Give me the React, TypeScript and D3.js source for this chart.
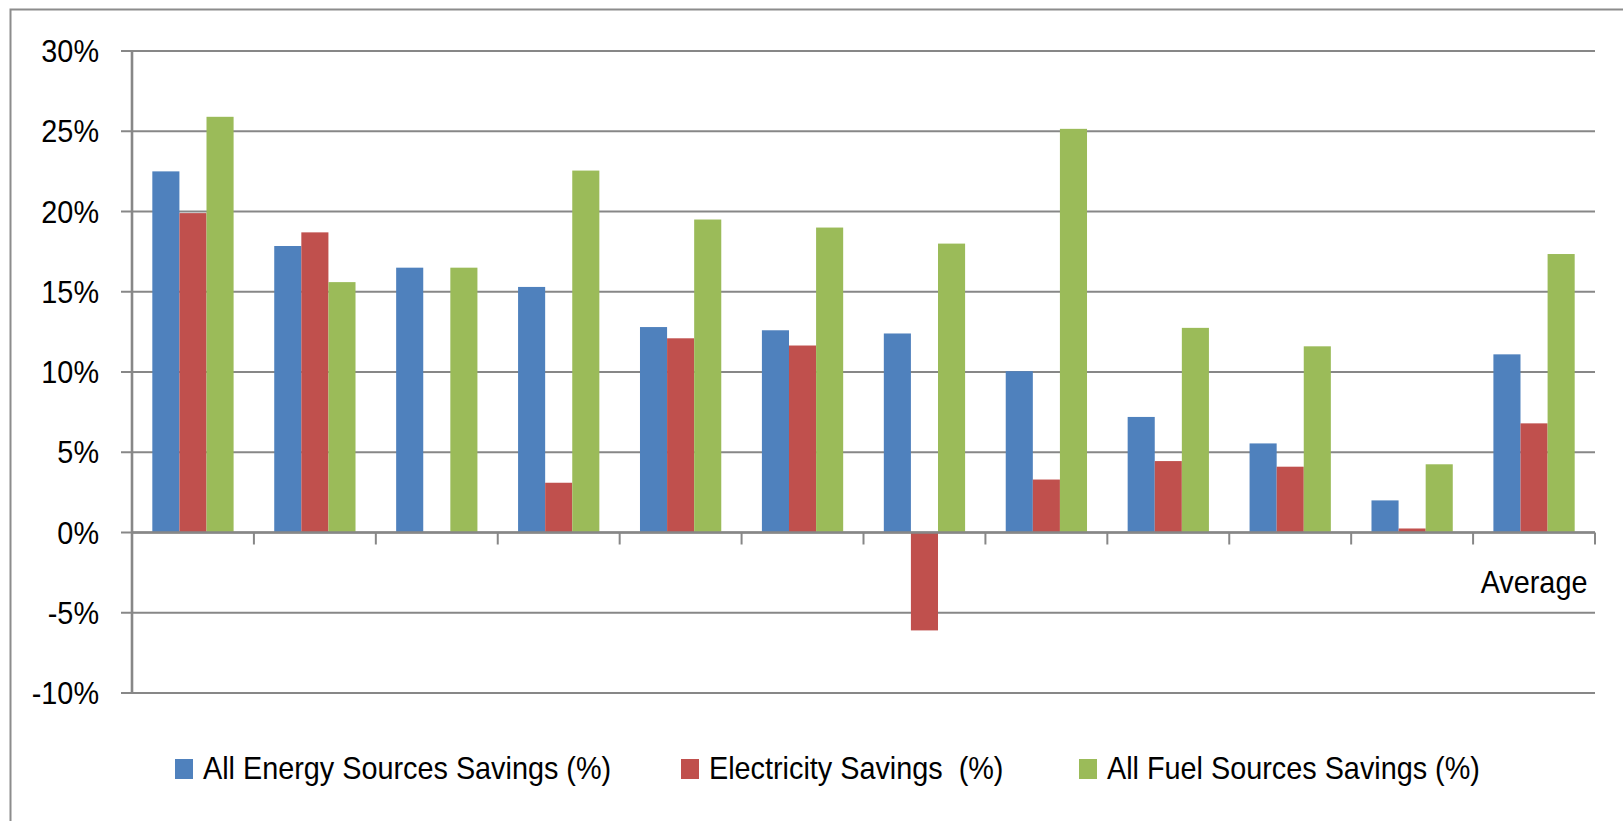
import React from 'react';
import * as d3 from 'd3';

// --- data ---
const categories = ['', '', '', '', '', '', '', '', '', '', '', 'Average'];
const seriesNames = ['All Energy Sources Savings (%)', 'Electricity Savings  (%)', 'All Fuel Sources Savings (%)'];
const allEnergy = [22.5, 17.85, 16.5, 15.3, 12.8, 12.6, 12.4, 10.05, 7.2, 5.55, 2.0, 11.1];
const electricity = [19.9, 18.7, 0, 3.1, 12.1, 11.65, -6.1, 3.3, 4.45, 4.1, 0.25, 6.8];
const allFuel = [25.9, 15.6, 16.5, 22.55, 19.5, 19.0, 18.0, 25.15, 12.75, 11.6, 4.25, 17.35];
const yTicks = [-10, -5, 0, 5, 10, 15, 20, 25, 30];

const seriesValues = [allEnergy, electricity, allFuel];
const colors = ['#4F81BD', '#C0504D', '#9BBB59'];

const W = 1623;
const H = 821;
const FONT = "'Liberation Sans', Arial, sans-serif";
const SX = 0.9; // squeeze to look like Calibri

const App = () => {
  const plot = { left: 132, right: 1595, top: 51, bottom: 693 };

  const x = d3.scaleBand<number>().domain(d3.range(categories.length)).range([plot.left, plot.right]);
  const xSub = d3.scaleBand<number>().domain([0, 1, 2]).range([0, x.bandwidth()]).paddingOuter(0.75);
  const y = d3.scaleLinear().domain([-10, 30]).range([plot.bottom, plot.top]);
  const y0 = y(0);
  const grid = '#878787';

  // legend swatch / text starts
  const legendItems = [
    { sq: 175, tx: 203 },
    { sq: 681, tx: 709 },
    { sq: 1079, tx: 1107 },
  ];

  return (
    <svg width={W} height={H} style={{ position: 'absolute', left: 0, top: 0, background: '#fff' }}>
      <rect x={0} y={0} width={W} height={H} fill="#fff" />
      {/* chart frame */}
      <rect x={10.5} y={9.5} width={W + 50} height={H + 50} fill="none" stroke="#8c8c8c" strokeWidth={2} />

      {/* gridlines + y labels */}
      {yTicks.map((t) => (
        <g key={t}>
          <line x1={121} x2={plot.right} y1={y(t)} y2={y(t)} stroke={grid} strokeWidth={2.2} />
          <text
            transform={`translate(99,${y(t) + 11}) scale(${SX},1)`}
            textAnchor="end"
            fontFamily={FONT}
            fontSize={32}
            fill="#000"
          >
            {t}%
          </text>
        </g>
      ))}

      {/* bars */}
      {seriesValues.map((vals, s) => (
        <g key={s}>
          {vals.map((v, i) => (
            <rect
              key={i}
              x={(x(i) ?? 0) + (xSub(s) ?? 0)}
              y={Math.min(y(v), y0)}
              width={xSub.bandwidth()}
              height={Math.abs(y(v) - y0)}
              fill={colors[s]}
            />
          ))}
        </g>
      ))}

      {/* y axis */}
      <line x1={plot.left} x2={plot.left} y1={plot.top} y2={plot.bottom + 1} stroke={grid} strokeWidth={2.6} />
      {/* x axis at zero */}
      <line x1={plot.left} x2={plot.right} y1={y0} y2={y0} stroke={grid} strokeWidth={2.6} />
      {categories.map((_, i) => {
        const xe = (x(i) ?? 0) + x.bandwidth();
        return <line key={i} x1={xe} x2={xe} y1={y0} y2={y0 + 12} stroke={grid} strokeWidth={2} />;
      })}

      {/* category labels */}
      {categories.map((c, i) =>
        c ? (
          <text
            key={i}
            transform={`translate(${(x(i) ?? 0) + x.bandwidth() / 2},${y0 + 60}) scale(${SX},1)`}
            textAnchor="middle"
            fontFamily={FONT}
            fontSize={32}
            fill="#000"
          >
            {c}
          </text>
        ) : null
      )}

      {/* legend */}
      {seriesNames.map((name, s) => (
        <g key={name}>
          <rect x={legendItems[s].sq} y={759} width={18} height={20} fill={colors[s]} />
          <text
            transform={`translate(${legendItems[s].tx},779) scale(${SX},1)`}
            fontFamily={FONT}
            fontSize={32}
            fill="#000"
            style={{ whiteSpace: 'pre' }}
          >
            {name}
          </text>
        </g>
      ))}
    </svg>
  );
};

export default App;
